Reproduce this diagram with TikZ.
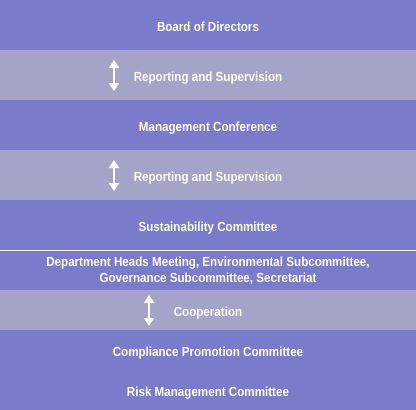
\documentclass[tikz,border=0pt]{standalone}
\usepackage{fontspec}
\setmainfont{Liberation Sans}[FakeStretch=0.88]
\usetikzlibrary{arrows.meta}

\definecolor{bandDark}{RGB}{122,123,203}
\definecolor{bandLight}{RGB}{164,163,200}

\tikzset{
  bandbase/.style={fill=bandDark,minimum width=416pt,inner sep=0pt,
    text=white,font=\fontsize{13.2}{16}\selectfont\bfseries,align=center},
  band/.style={bandbase,text height=12.5pt,text depth=0pt},
  link/.style={band,fill=bandLight},
  twoway/.style={draw=white,line width=2pt,{Triangle[width=10pt,length=8pt]}-{Triangle[width=10pt,length=8pt]}}
}

\begin{document}
\begin{tikzpicture}[x=1pt,y=1pt]
  \useasboundingbox (0,0) rectangle (416,-410);

  \draw (208,-25) node[band,minimum height=50pt] (board) {Board of Directors};
  \draw (208,-75) node[link,minimum height=50pt] (rep1) {Reporting and Supervision};
  \draw (208,-125) node[band,minimum height=50pt] (mgmt) {Management Conference};
  \draw (208,-175) node[link,minimum height=50pt] (rep2) {Reporting and Supervision};
  \draw (208,-225) node[band,minimum height=50pt] (sust) {Sustainability Committee};
  \draw (208,-270.5) node[bandbase,minimum height=39pt] (dept)
    {Department Heads Meeting, Environmental Subcommittee,\\Governance Subcommittee, Secretariat};
  \draw (208,-310) node[link,minimum height=40pt] (coop) {Cooperation};
  \draw (208,-350) node[band,minimum height=40pt] (comp) {Compliance Promotion Committee};
  \draw (208,-390) node[band,minimum height=40pt] (risk) {Risk Management Committee};

  % divider under the sustainability committee
  \draw[white,line width=1pt] (sust.south west) -- (sust.south east);

  % two-way arrows
  \coordinate (r1a) at (114,-60);
  \coordinate (r1b) at (114,-91);
  \coordinate (r2a) at (114,-160);
  \coordinate (r2b) at (114,-191);
  \coordinate (ca) at (149,-295);
  \coordinate (cb) at (149,-326);
  \draw[twoway] (r1a) -- (r1b);
  \draw[twoway] (r2a) -- (r2b);
  \draw[twoway] (ca) -- (cb);

\end{tikzpicture}
\end{document}
